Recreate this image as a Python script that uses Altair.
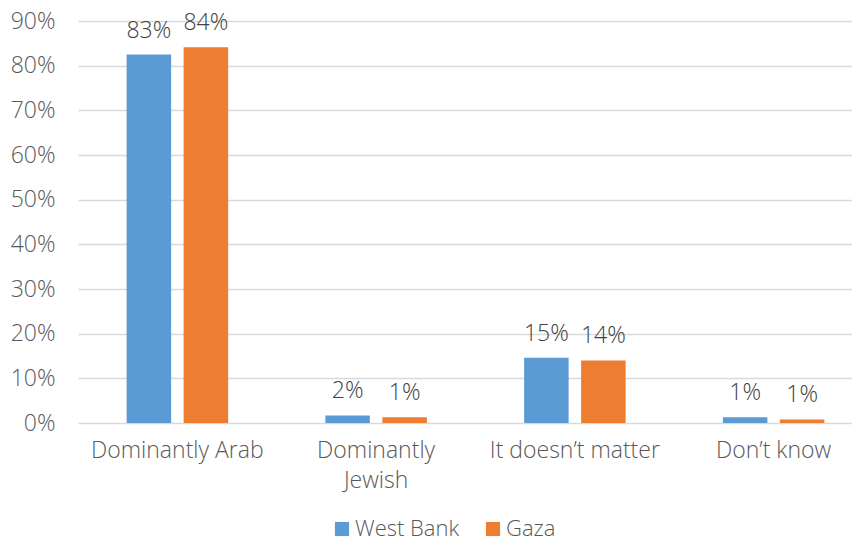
import altair as alt
import pandas as pd

categories = ["Dominantly Arab", "Dominantly Jewish", "It doesn’t matter", "Don’t know"]
series = ["West Bank", "Gaza"]
west_bank = [82.5, 1.7, 14.6, 1.3]
gaza = [84.1, 1.3, 14.0, 0.8]
west_bank_labels = ["83%", "2%", "15%", "1%"]
gaza_labels = ["84%", "1%", "14%", "1%"]
colors = ["#5B9BD5", "#ED7D31"]

rows = []
for i, c in enumerate(categories):
    rows.append({"cat": c, "series": series[0], "value": west_bank[i], "label": west_bank_labels[i]})
    rows.append({"cat": c, "series": series[1], "value": gaza[i], "label": gaza_labels[i]})
df = pd.DataFrame(rows)

FONT = "Open Sans"
FW = 300
FS = 23

x = alt.X("cat:N", sort=categories, title=None,
          scale=alt.Scale(paddingInner=0, paddingOuter=0, range=[0, 795]),
          axis=alt.Axis(labelAngle=0, ticks=False, domain=False, grid=False,
                        labelFontSize=FS, labelColor="#595959", labelFont=FONT,
                        labelFontWeight=FW,
                        labelPadding=16, labelLineHeight=30,
                        labelExpr="datum.value == 'Dominantly Jewish' ? ['Dominantly', 'Jewish'] : datum.value"))
xo = alt.XOffset("series:N", sort=series,
                 scale=alt.Scale(paddingInner=0.219, paddingOuter=0.853))
y = alt.Y("value:Q", title=None,
          scale=alt.Scale(domain=[0, 90], nice=False),
          axis=alt.Axis(values=list(range(0, 100, 10)), labelExpr="datum.value + '%'",
                        ticks=False, domain=False, gridColor="#D9D9D9", gridWidth=1.3,
                        labelFontSize=FS, labelColor="#595959", labelFont=FONT,
                        labelFontWeight=FW, labelPadding=23))

bars = alt.Chart(df).mark_bar().encode(
    x=x, xOffset=xo, y=y,
    color=alt.Color("series:N", sort=series,
                    scale=alt.Scale(domain=series, range=colors),
                    legend=alt.Legend(title=None, orient="none", direction="horizontal",
                                      legendX=253, legendY=497, symbolType="square",
                                      symbolSize=200, labelFontSize=22, labelFont=FONT,
                                      labelFontWeight=FW,
                                      labelColor="#595959", columnPadding=22,
                                      labelOffset=2, symbolStrokeWidth=0))
)

text = alt.Chart(df).mark_text(baseline="alphabetic", dy=-17, fontSize=FS,
                               font=FONT, fontWeight=FW, color="#404040").encode(
    x=alt.X("cat:N", sort=categories), xOffset=alt.XOffset("series:N", sort=series),
    y="value:Q", text="label:N"
)

chart = (bars + text).properties(
    width=774, height=402,
    autosize=alt.AutoSizeParams(type="none"),
    padding={"left": 70, "top": 13, "right": 0, "bottom": 117},
).configure_view(stroke=None)

chart.save("out.html", embed_options={"renderer": "svg", "actions": False})
